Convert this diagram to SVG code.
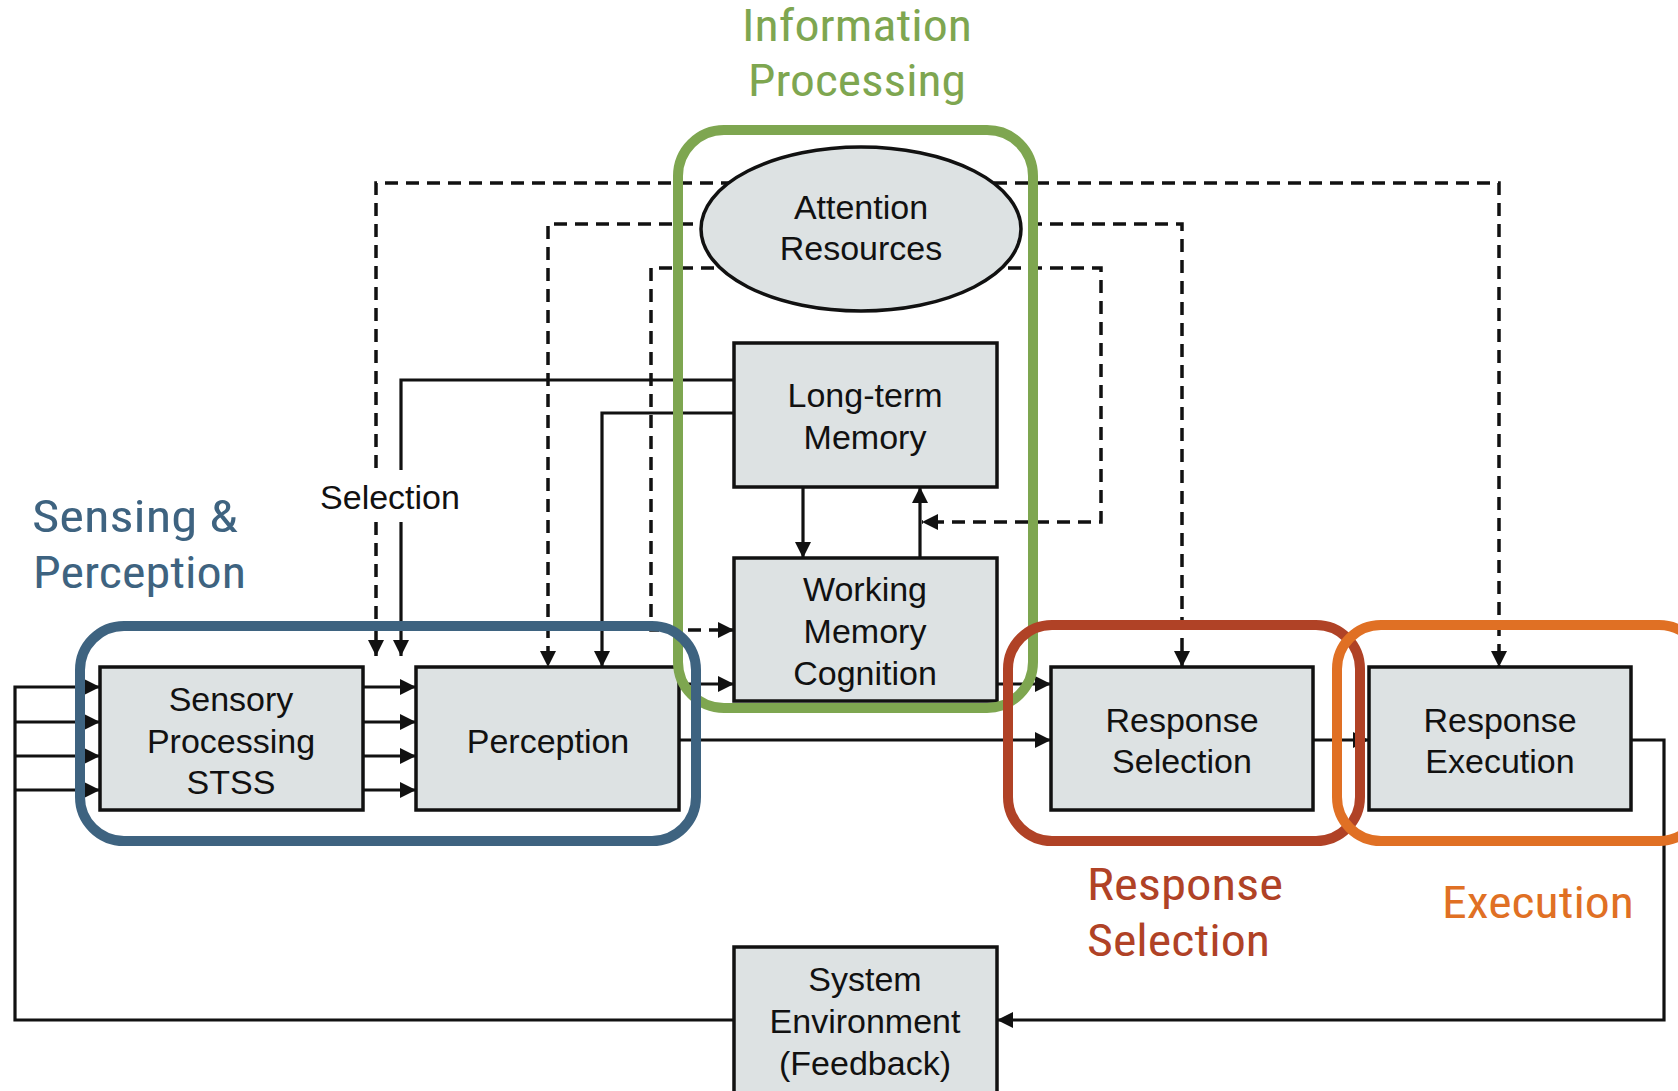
<svg xmlns="http://www.w3.org/2000/svg" width="1678" height="1091" viewBox="0 0 1678 1091">
<defs>
<marker id="arr" viewBox="0 0 10 10" refX="10" refY="5" markerWidth="17" markerHeight="16" markerUnits="userSpaceOnUse" orient="auto">
<path d="M0,0 L10,5 L0,10 z" fill="#111"/>
</marker>
<style>
.ln{fill:none;stroke:#111;stroke-width:3.2}
.ds{fill:none;stroke:#111;stroke-width:3.5;stroke-dasharray:13 8}
.ar{marker-end:url(#arr)}
.box{fill:#DDE2E3;stroke:#111;stroke-width:3.5}
.t{font-family:"Liberation Sans",Arial,sans-serif;font-size:34px;fill:#111;text-anchor:middle}
.grp{fill:none;stroke-width:10}
.lab{font-family:"Liberation Sans Narrow","Roboto Condensed","Liberation Sans",sans-serif;font-size:44px}
</style>
</defs>
<rect width="1678" height="1091" fill="#fff"/>
<g id="connectors">
<path class="ds ar" d="M376,468 V183 H1499 V667"/>
<path class="ds ar" d="M376,522 V656"/>
<path class="ds ar" d="M861,224 H548 V667"/>
<path class="ds ar" d="M861,224 H1182 V667"/>
<path class="ds ar" d="M861,268 H651 V630 H734"/>
<path class="ds ar" d="M861,268 H1101 V522 H922"/>
<path class="ln" d="M734,380 H401 V470"/>
<path class="ln ar" d="M401,522 V656"/>
<path class="ln ar" d="M734,413 H602 V667"/>
<path class="ln ar" d="M803,487 V558"/>
<path class="ln ar" d="M920,558 V487"/>
<path class="ln ar" d="M734,1020 H15 V687 H100"/>
<path class="ln ar" d="M15,722 H100"/>
<path class="ln ar" d="M15,756 H100"/>
<path class="ln ar" d="M15,790 H100"/>
<path class="ln ar" d="M363,687 H416"/>
<path class="ln ar" d="M363,722 H416"/>
<path class="ln ar" d="M363,756 H416"/>
<path class="ln ar" d="M363,790 H416"/>
<path class="ln ar" d="M679,684 H734"/>
<path class="ln ar" d="M679,740 H1051"/>
<path class="ln ar" d="M997,684 H1051"/>
<path class="ln ar" d="M1313,740 H1369"/>
<path class="ln ar" d="M1631,740 H1664 V1020 H997"/>
<text class="t" x="390" y="509">Selection</text>
</g>
<g id="attention">
<ellipse cx="861" cy="229" rx="160" ry="82" class="box"/>
<text class="t" x="861" y="219">Attention</text>
<text class="t" x="861" y="260">Resources</text>
</g>
<g id="ltm">
<rect x="734" y="343" width="263" height="144" class="box"/>
<text class="t" x="865" y="407">Long-term</text>
<text class="t" x="865" y="449">Memory</text>
</g>
<g id="wm">
<rect x="734" y="558" width="263" height="143" class="box"/>
<text class="t" x="865" y="601">Working</text>
<text class="t" x="865" y="643">Memory</text>
<text class="t" x="865" y="685">Cognition</text>
</g>
<g id="sensory">
<rect x="100" y="667" width="263" height="143" class="box"/>
<text class="t" x="231" y="711">Sensory</text>
<text class="t" x="231" y="753">Processing</text>
<text class="t" x="231" y="794">STSS</text>
</g>
<g id="perception">
<rect x="416" y="667" width="263" height="143" class="box"/>
<text class="t" x="548" y="753">Perception</text>
</g>
<g id="response-selection">
<rect x="1051" y="667" width="262" height="143" class="box"/>
<text class="t" x="1182" y="732">Response</text>
<text class="t" x="1182" y="773">Selection</text>
</g>
<g id="response-execution">
<rect x="1369" y="667" width="262" height="143" class="box"/>
<text class="t" x="1500" y="732">Response</text>
<text class="t" x="1500" y="773">Execution</text>
</g>
<g id="environment">
<rect x="734" y="947" width="263" height="150" class="box"/>
<text class="t" x="865" y="991">System</text>
<text class="t" x="865" y="1033">Environment</text>
<text class="t" x="865" y="1075">(Feedback)</text>
</g>
<g id="group-information">
<rect x="678" y="130" width="355" height="578" rx="46" class="grp" stroke="#7EA650"/>
<text class="lab" fill="#7EA650" x="742" y="41" textLength="230" lengthAdjust="spacingAndGlyphs">Information</text>
<text class="lab" fill="#7EA650" x="748" y="96" textLength="218" lengthAdjust="spacingAndGlyphs">Processing</text>
</g>
<g id="group-sensing">
<rect x="80" y="626" width="616" height="215" rx="44" class="grp" stroke="#3E6380"/>
<text class="lab" fill="#3E6380" x="32" y="532" textLength="206" lengthAdjust="spacingAndGlyphs">Sensing &amp;</text>
<text class="lab" fill="#3E6380" x="33" y="588" textLength="213" lengthAdjust="spacingAndGlyphs">Perception</text>
</g>
<g id="group-selection">
<rect x="1008" y="625" width="352" height="216" rx="44" class="grp" stroke="#B04226"/>
<text class="lab" fill="#B04226" x="1087" y="900" textLength="196" lengthAdjust="spacingAndGlyphs">Response</text>
<text class="lab" fill="#B04226" x="1087" y="956" textLength="183" lengthAdjust="spacingAndGlyphs">Selection</text>
</g>
<g id="group-execution">
<rect x="1337" y="625" width="366" height="216" rx="44" class="grp" stroke="#E07024"/>
<text class="lab" fill="#E07024" x="1442" y="918" textLength="192" lengthAdjust="spacingAndGlyphs">Execution</text>
</g>
</svg>
